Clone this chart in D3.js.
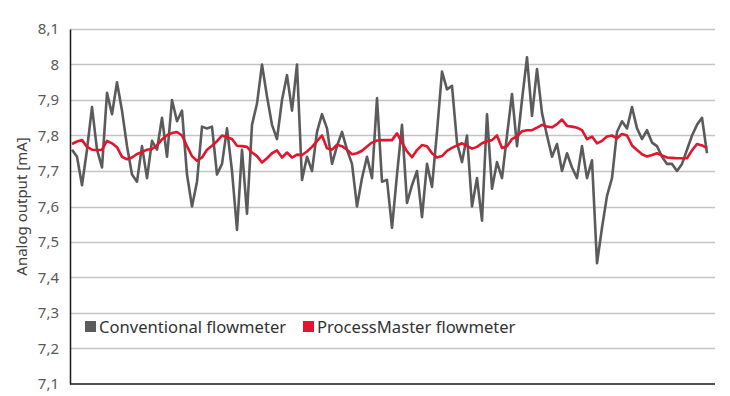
<!DOCTYPE html>
<html>
<head>
<meta charset="utf-8">
<script src="https://cdn.jsdelivr.net/npm/d3@7"></script>
<style>
    html, body { margin: 0; padding: 0; background: #fff; }
    svg text { font-family: "Noto Sans", "Open Sans", sans-serif; }
</style>
</head>
<body>
<div id="chart"></div>
<script>
// Series values (mA), one per sample.
var conventional = [
    7.76, 7.74, 7.66, 7.76, 7.88, 7.76, 7.71, 7.92, 7.86, 7.95,
    7.87, 7.77, 7.69, 7.67, 7.77, 7.68, 7.785, 7.76, 7.85, 7.74,
    7.90, 7.84, 7.87, 7.69, 7.60, 7.67, 7.825, 7.82, 7.825, 7.69,
    7.72, 7.82, 7.70, 7.534, 7.76, 7.58, 7.83, 7.89, 8.00, 7.91,
    7.83, 7.79, 7.90, 7.97, 7.87, 8.00, 7.675, 7.74, 7.70, 7.81,
    7.86, 7.82, 7.72, 7.77, 7.81, 7.76, 7.72, 7.60, 7.68, 7.74,
    7.68, 7.905, 7.67, 7.675, 7.54, 7.69, 7.83, 7.61, 7.66, 7.70,
    7.57, 7.72, 7.655, 7.81, 7.98, 7.93, 7.94, 7.78, 7.725, 7.80,
    7.60, 7.68, 7.56, 7.86, 7.65, 7.725, 7.68, 7.80, 7.917, 7.77,
    7.90, 8.02, 7.855, 7.987, 7.863, 7.80, 7.74, 7.776, 7.70, 7.75,
    7.71, 7.68, 7.77, 7.68, 7.73, 7.44, 7.54, 7.63, 7.68, 7.81,
    7.84, 7.82, 7.88, 7.82, 7.79, 7.815, 7.78, 7.77, 7.74, 7.72,
    7.72, 7.70, 7.72, 7.76, 7.80, 7.83, 7.85, 7.75
];
var processMaster = [
    7.776, 7.783, 7.787, 7.768, 7.760, 7.759, 7.760, 7.785, 7.778, 7.767,
    7.740, 7.733, 7.738, 7.748, 7.753, 7.760, 7.762, 7.772, 7.789, 7.801,
    7.807, 7.810, 7.800, 7.770, 7.742, 7.729, 7.738, 7.760, 7.771, 7.784,
    7.800, 7.795, 7.790, 7.771, 7.770, 7.768, 7.752, 7.742, 7.724, 7.736,
    7.750, 7.758, 7.738, 7.752, 7.738, 7.746, 7.745, 7.755, 7.768, 7.784,
    7.800, 7.764, 7.760, 7.774, 7.770, 7.760, 7.747, 7.750, 7.757, 7.769,
    7.780, 7.786, 7.787, 7.787, 7.787, 7.806, 7.780, 7.755, 7.739, 7.759,
    7.773, 7.770, 7.750, 7.738, 7.742, 7.757, 7.765, 7.772, 7.778, 7.771,
    7.763, 7.768, 7.778, 7.784, 7.787, 7.800, 7.765, 7.770, 7.790, 7.798,
    7.812, 7.815, 7.815, 7.822, 7.830, 7.825, 7.823, 7.832, 7.845, 7.827,
    7.825, 7.822, 7.815, 7.790, 7.797, 7.778, 7.785, 7.797, 7.800, 7.792,
    7.804, 7.800, 7.772, 7.759, 7.747, 7.741, 7.745, 7.750, 7.744, 7.738,
    7.737, 7.736, 7.736, 7.736, 7.758, 7.776, 7.772, 7.765
];
var yTicks = [7.1, 7.2, 7.3, 7.4, 7.5, 7.6, 7.7, 7.8, 7.9, 8.0, 8.1];
var seriesNames = ['Conventional flowmeter', 'ProcessMaster flowmeter'];
var seriesColors = ['#5b5b5b', '#e3142c'];

var width = 730, height = 396,
    margin = {top: 29, right: 15, bottom: 12, left: 70},
    plotW = width - margin.left - margin.right,
    plotH = height - margin.top - margin.bottom;

var svg = d3.select('#chart').append('svg')
    .attr('width', width)
    .attr('height', height);

var g = svg.append('g')
    .attr('transform', 'translate(' + margin.left + ',' + margin.top + ')');

// Scales
var x = d3.scaleLinear()
    .domain([0, conventional.length - 1])
    .range([2, plotW - 8]);
var y = d3.scaleLinear()
    .domain([7.1, 8.1])
    .range([plotH, 0]);

var commaFmt = function (d) {
    var s = d3.format('.1f')(d);
    if (s.slice(-2) === '.0') { s = s.slice(0, -2); }
    return s.replace('.', ',');
};

// Horizontal gridlines
g.append('g')
    .attr('class', 'grid')
    .selectAll('line')
    .data(yTicks.slice(1)).enter()
    .append('line')
    .attr('x1', 0)
    .attr('x2', plotW)
    .attr('y1', function (d) { return Math.round(y(d)) + 0.5; })
    .attr('y2', function (d) { return Math.round(y(d)) + 0.5; })
    .attr('stroke', '#c4c4c4')
    .attr('stroke-width', 1.5);

// Y axis
var yAxis = g.append('g')
    .call(d3.axisLeft(y).tickValues(yTicks).tickSize(0).tickPadding(11).tickFormat(commaFmt));
yAxis.select('.domain').attr('stroke', '#1a1a1a').attr('stroke-width', 1.5);
yAxis.selectAll('text')
    .attr('fill', '#595959')
    .style('font-size', '15px');

// Bottom axis line
g.append('line')
    .attr('x1', 0)
    .attr('x2', plotW)
    .attr('y1', plotH)
    .attr('y2', plotH)
    .attr('stroke', '#1a1a1a')
    .attr('stroke-width', 1.5);

// Axis title
svg.append('text')
    .attr('transform', 'translate(27,' + (margin.top + plotH / 2) + ') rotate(-90)')
    .attr('text-anchor', 'middle')
    .attr('fill', '#404040')
    .style('font-size', '15px')
    .text('Analog output [mA]');

// Lines
var line = d3.line()
    .x(function (d, i) { return x(i); })
    .y(function (d) { return y(d); });

[conventional, processMaster].forEach(function (vals, k) {
    g.append('path')
        .datum(vals)
        .attr('fill', 'none')
        .attr('stroke', seriesColors[k])
        .attr('stroke-width', k === 0 ? 2.6 : 2.6)
        .attr('stroke-linejoin', 'round')
        .attr('d', line);
});

// Legend
var legend = svg.append('g').attr('transform', 'translate(85,321)');
var offs = [0, 218];
seriesNames.forEach(function (name, k) {
    var item = legend.append('g').attr('transform', 'translate(' + offs[k] + ',0)');
    item.append('rect')
        .attr('width', 11).attr('height', 11)
        .attr('fill', seriesColors[k]);
    item.append('text')
        .attr('x', 14).attr('y', 12)
        .attr('fill', '#333')
        .style('font-size', '16.6px')
        .text(name);
});
</script>
</body>
</html>
